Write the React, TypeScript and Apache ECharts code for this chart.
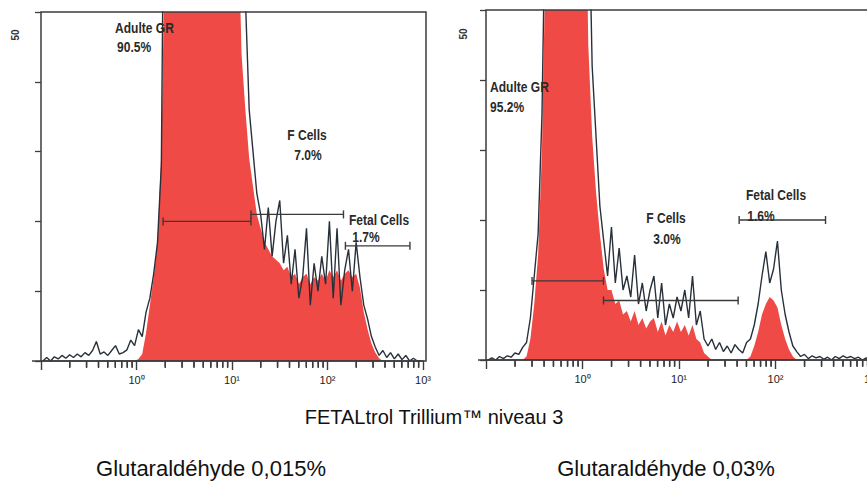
import React, { useEffect, useRef } from "react";
import * as echarts from "echarts";

// Fluorescence channels: 100 bins spanning 10^-1 .. 10^3 (4 decades)
const LOG_START = -1;
const DECADES_PER_BIN = 0.04;

// Left panel (Glutaraldéhyde 0,015%) – raw histogram outline (events per channel)
const leftOutline = [
  0, 0.5, 0, 0.6, 0.3, 0.8, 0.4, 0.9, 0.5, 1.0,
  0.6, 1.2, 0.8, 1.5, 2.8, 1.0, 1.3, 0.8, 1.5, 2.2,
  1.0, 1.2, 1.6, 3.0, 2.2, 4.5, 3.5, 7, 9, 12.5,
  17, 28, 92, 105, 118, 126, 131, 128, 134, 137,
  133, 129, 124, 118, 110, 104, 96, 88, 81, 74,
  68, 63, 58, 52, 36, 30, 24, 21, 16, 22,
  15, 20, 23, 14, 18, 11, 16, 9, 12, 19,
  8, 14, 10, 15, 11, 20, 9, 19, 8, 13,
  16, 10, 17, 12, 8, 6, 3.5, 2, 0.8, 1.5,
  0.5, 1.2, 0.3, 1.0, 0.2, 0.8, 0, 0.4, 0, 0,
];
// Left panel – filled (red) histogram
const leftFill = [
  0, 0, 0, 0, 0, 0, 0, 0, 0, 0,
  0, 0, 0, 0, 0, 0, 0, 0, 0, 0,
  0, 0, 0, 0, 0, 0.3, 1, 4, 8, 12,
  17, 30, 62, 95, 110, 118, 124, 122, 126, 128,
  125, 121, 116, 110, 103, 97, 90, 84, 78, 72,
  68, 66, 44, 36, 29, 25, 21, 19, 17, 16,
  15, 14.5, 14, 13, 13.5, 12, 12.5, 11, 12, 12.5,
  11, 12, 11.5, 12.5, 11.5, 13, 12, 13, 11.5, 12.5,
  13, 12, 12.5, 10.5, 7, 4.5, 2.5, 1.2, 0.4, 0,
  0, 0, 0, 0, 0, 0, 0, 0, 0, 0,
];

// Right panel (Glutaraldéhyde 0,03%) – raw histogram outline
const rightOutline = [
  0, 0.3, 0, 0.5, 0.2, 0.6, 0.4, 1.0, 0.8, 1.8,
  2.5, 6, 12, 18, 35, 70, 96, 112, 124, 133,
  138, 135, 128, 116, 102, 88, 70, 42, 32, 22,
  17, 12, 19, 11, 16, 10, 12, 9, 15, 8,
  11, 7, 10, 12, 6, 11, 5, 8, 6, 9,
  7, 10, 6, 12, 5, 7, 3, 2, 3, 1.5,
  2.5, 1.2, 2, 1.0, 2.2, 1.5, 1.0, 2.5, 3, 5,
  8, 12, 15.5, 11, 13, 17, 10, 6.5, 4, 2,
  1.2, 0.5, 0.8, 0.2, 0.6, 0.3, 0.5, 0.1, 0.4, 0,
  0.5, 0.2, 0.6, 0.3, 0.5, 0.2, 0.4, 0, 0.3, 0,
];
// Right panel – filled (red) histogram
const rightFill = [
  0, 0, 0, 0, 0, 0, 0, 0, 0, 0,
  0.5, 3, 8, 15, 30, 60, 92, 108, 120, 128,
  132, 130, 124, 112, 98, 80, 45, 32, 24, 18,
  13, 10, 10, 8, 8.5, 6.5, 7, 5.5, 7, 5,
  6, 4.5, 5.5, 6, 4, 5.5, 3.5, 5, 4, 5.5,
  4, 5, 3.5, 5, 3, 2.5, 1, 0.5, 0, 0,
  0, 0, 0, 0, 0, 0, 0, 0, 0.5, 2,
  4, 6.5, 8, 9, 8.5, 7.5, 5, 3, 1.5, 0.5,
  0, 0, 0, 0, 0, 0, 0, 0, 0, 0,
  0, 0, 0, 0, 0, 0, 0, 0, 0, 0,
];

// Axes
const xMin = 0.1;
const xMax = 1000;
const xTickExponents = [0, 1, 2, 3];
const xTickLabels = ["10⁰", "10¹", "10²", "10³"];
const minorDecades = [-1, 0, 1, 2];
const minorMultipliers = [2, 3, 4, 5, 6, 7, 8, 9];
const yMax = 50;
const yInterval = 10;
const yMaxLabel = "50";

// Gates (regions)
const gateNames = ["Adulte GR", "F Cells", "Fetal Cells"];
const leftGatePercents = ["90.5%", "7.0%", "1.7%"];
const leftGateFrom = [1.9, 15.8, 154];
const leftGateTo = [15.8, 147, 730];
const leftGateLevel = [20, 21, 16.5];
const rightGatePercents = ["95.2%", "3.0%", "1.6%"];
const rightGateFrom = [0.3, 1.65, 42];
const rightGateTo = [1.65, 41, 330];
const rightGateLevel = [11.3, 8.5, 20];

// Texts
const titleText = "FETALtrol Trillium™ niveau 3";
const leftCaption = "Glutaraldéhyde 0,015%";
const rightCaption = "Glutaraldéhyde 0,03%";

const RED = "#ef4a45";
const DARK = "#28303a";
const FRAME = "#3c3c3c";
const SANS = "'Liberation Sans', Arial, sans-serif";

const GRIDS = [
  { left: 41, top: 12, width: 382, height: 349 },
  { left: 486, top: 10, width: 386, height: 350 },
];
const FRAMES = [
  { x: 41, y: 12, width: 385, height: 349 },
  { x: 486, y: 10, width: 386, height: 350 },
];
const STRIP_HEIGHT = 7;

const binX = (i: number) => Math.pow(10, LOG_START + (i + 0.5) * DECADES_PER_BIN);
const toPoints = (arr: number[]) => arr.map((c, i) => [binX(i), c]);

function buildGraphic() {
  const ann = (text: string, x: number, y: number, align: string) => ({
    type: "text", x, y, z: 20, scaleX: 0.86, silent: true,
    style: {
      text, fill: "#2a2a2a", fontSize: 14, fontWeight: "bold", fontFamily: SANS,
      align, textAlign: align, verticalAlign: "middle", textVerticalAlign: "middle",
    },
  });
  const plain = (text: string, x: number, y: number, size: number) => ({
    type: "text", x, y, z: 20, silent: true,
    style: {
      text, fill: "#111", fontSize: size, fontFamily: SANS,
      align: "center", textAlign: "center", verticalAlign: "middle", textVerticalAlign: "middle",
    },
  });
  const yLabel = (x: number, y: number) => ({
    type: "text", x, y, rotation: Math.PI / 2, z: 20, silent: true,
    style: {
      text: yMaxLabel, fill: "#333", fontSize: 10, fontWeight: "bold", fontFamily: SANS,
      align: "center", textAlign: "center", verticalAlign: "middle", textVerticalAlign: "middle",
    },
  });

  return [
    ...FRAMES.map((f) => ({
      type: "rect", z: 50, silent: true,
      shape: { ...f },
      style: { fill: "none", stroke: FRAME, lineWidth: 1.5 },
    })),
    { type: "line", z: 50, silent: true, shape: { x1: 32, y1: 361, x2: 41, y2: 361 }, style: { stroke: FRAME, lineWidth: 1.5 } },
    { type: "line", z: 50, silent: true, shape: { x1: 478, y1: 360, x2: 486, y2: 360 }, style: { stroke: FRAME, lineWidth: 1.5 } },
    yLabel(15, 35),
    yLabel(463, 34),
    ann(gateNames[0], 115, 28, "left"),
    ann(leftGatePercents[0], 117, 47, "left"),
    ann(gateNames[1], 307, 135, "center"),
    ann(leftGatePercents[1], 308, 155, "center"),
    ann(gateNames[2], 379, 220, "center"),
    ann(leftGatePercents[2], 366, 237, "center"),
    ann(gateNames[0], 490, 87, "left"),
    ann(rightGatePercents[0], 490, 107, "left"),
    ann(gateNames[1], 666, 218, "center"),
    ann(rightGatePercents[1], 667, 239, "center"),
    ann(gateNames[2], 776, 195, "center"),
    ann(rightGatePercents[2], 761, 216, "center"),
    plain(titleText, 434, 417, 20),
    plain(leftCaption, 211, 468, 22),
    plain(rightCaption, 666, 468, 22),
  ];
}

function buildOption() {
  const minorData: number[][] = [];
  minorDecades.forEach((d) => minorMultipliers.forEach((m) => minorData.push([m * Math.pow(10, d), 1])));

  const grids: any[] = GRIDS.map((g) => ({ ...g, show: false, containLabel: false, outerBoundsMode: "none" }));
  // thin strips under each panel, holding the minor log ticks as thin bars
  GRIDS.forEach((g) => {
    grids.push({
      left: g.left, width: g.width, top: g.top + g.height, height: STRIP_HEIGHT,
      show: false, containLabel: false, outerBoundsMode: "none",
    });
  });

  const xAxis: any[] = [];
  const yAxis: any[] = [];
  GRIDS.forEach((_, g) => {
    xAxis.push({
      type: "log", gridIndex: g, min: xMin, max: xMax, logBase: 10, position: "bottom", z: 10,
      axisLine: { show: true, onZero: false, lineStyle: { color: FRAME, width: 1.5 } },
      axisTick: { show: true, length: 9, lineStyle: { color: FRAME, width: 1.4 } },
      minorTick: { show: false },
      axisLabel: {
        show: true, margin: 13, fontSize: 11, color: "#222", fontFamily: SANS,
        formatter: (v: number) => xTickLabels[xTickExponents.indexOf(Math.round(Math.log10(v)))] ?? "",
      },
      splitLine: { show: false },
    });
    yAxis.push({
      type: "value", gridIndex: g, min: 0, max: yMax, interval: yInterval, z: 10, position: "left",
      axisLine: { show: false, onZero: false },
      axisTick: { show: true, length: 6, lineStyle: { color: FRAME, width: 1.3 } },
      axisLabel: { show: false },
      splitLine: { show: false },
    });
  });
  GRIDS.forEach((_, g) => {
    xAxis.push({
      type: "log", gridIndex: g + 2, min: xMin, max: xMax, logBase: 10, position: "bottom",
      axisLine: { show: false, onZero: false }, axisTick: { show: false }, axisLabel: { show: false },
      splitLine: { show: false },
    });
    yAxis.push({
      type: "value", gridIndex: g + 2, min: 0, max: 1, inverse: true,
      axisLine: { show: false, onZero: false }, axisTick: { show: false }, axisLabel: { show: false },
      splitLine: { show: false },
    });
  });

  const series: any[] = [];
  const panels = [
    { fill: leftFill, outline: leftOutline, from: leftGateFrom, to: leftGateTo, level: leftGateLevel },
    { fill: rightFill, outline: rightOutline, from: rightGateFrom, to: rightGateTo, level: rightGateLevel },
  ];
  panels.forEach((p, g) => {
    series.push({
      type: "line", xAxisIndex: g, yAxisIndex: g, data: toPoints(p.fill),
      showSymbol: false, symbol: "none", lineStyle: { width: 0, color: RED },
      areaStyle: { color: RED, opacity: 1 }, z: 2, silent: true, clip: true,
    });
    series.push({
      type: "line", xAxisIndex: g, yAxisIndex: g, data: toPoints(p.outline),
      showSymbol: false, symbol: "none", lineStyle: { width: 1.4, color: DARK }, z: 3, silent: true, clip: true,
    });
    p.from.forEach((f, k) => {
      series.push({
        type: "line", name: gateNames[k], xAxisIndex: g, yAxisIndex: g,
        data: [[f, p.level[k]], [p.to[k], p.level[k]]],
        symbol: "rect", symbolSize: [1.4, 8], showSymbol: true,
        lineStyle: { color: "#3a3a3a", width: 1.3 }, itemStyle: { color: "#3a3a3a" },
        z: 5, silent: true, clip: false,
      });
    });
    // minor log ticks as thin bars hanging from the axis line (strip y-axis is inverted)
    series.push({
      type: "bar", xAxisIndex: g + 2, yAxisIndex: g + 2, data: minorData,
      barWidth: 1.4, barMinHeight: 5, itemStyle: { color: FRAME }, z: 12, silent: true,
    });
  });

  return {
    animation: false,
    backgroundColor: "#ffffff",
    grid: grids,
    xAxis,
    yAxis,
    series,
    graphic: buildGraphic(),
  };
}

export default function App() {
  const ref = useRef<HTMLDivElement>(null);
  useEffect(() => {
    if (!ref.current) return;
    const chart = echarts.init(ref.current, undefined, { renderer: "svg" });
    chart.setOption(buildOption() as any);
    // additionally draw the minor ticks as graphic lines placed through each panel's log axis
    try {
      const tickLines: any[] = [];
      GRIDS.forEach((gr, g) => {
        const yBase = gr.top + gr.height;
        minorDecades.forEach((d) =>
          minorMultipliers.forEach((m) => {
            const px = chart.convertToPixel({ xAxisIndex: g } as any, m * Math.pow(10, d)) as any;
            const x = Array.isArray(px) ? px[0] : px;
            if (typeof x === "number" && isFinite(x)) {
              tickLines.push({
                type: "line", z: 60, silent: true,
                shape: { x1: x, y1: yBase, x2: x, y2: yBase + 6 },
                style: { stroke: FRAME, lineWidth: 1.4 },
              });
            }
          })
        );
      });
      if (tickLines.length) chart.setOption({ graphic: [...buildGraphic(), ...tickLines] } as any);
    } catch (e) {
      // minor ticks remain drawn by the bar series
    }
    return () => chart.dispose();
  }, []);
  return (
    <div
      ref={ref}
      style={{ position: "fixed", left: 0, top: 0, width: 867, height: 485, background: "#fff" }}
    />
  );
}
